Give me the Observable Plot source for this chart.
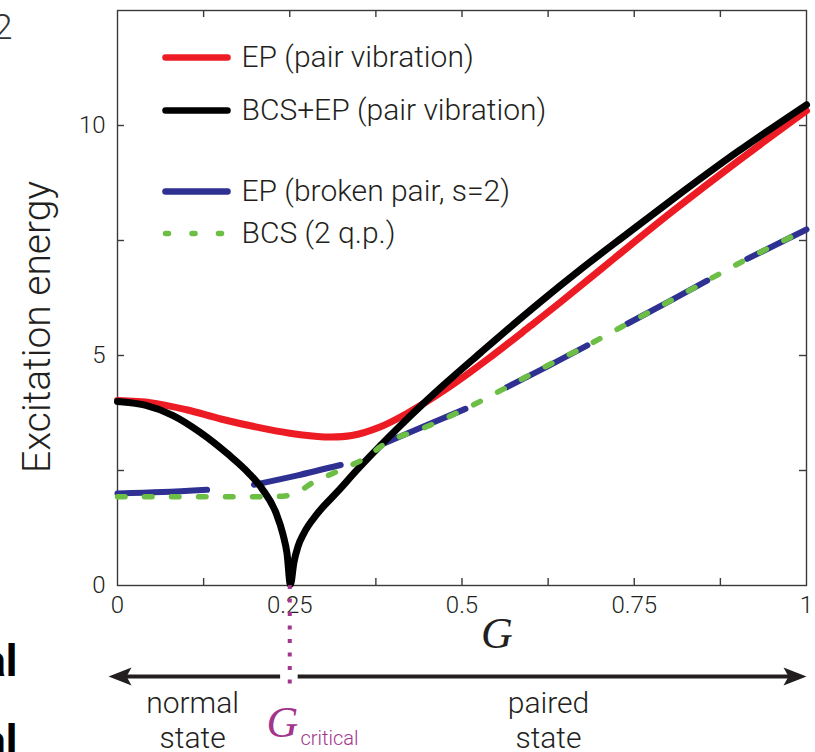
<!DOCTYPE html>
<html>
<head>
<meta charset="utf-8">
<script src="https://cdn.jsdelivr.net/npm/d3@7"></script>
<script src="https://cdn.jsdelivr.net/npm/@observablehq/plot@0.6"></script>
<style>
  html, body { margin: 0; padding: 0; background: #fff; }
  #chart { width: 815px; height: 752px; overflow: hidden; }
</style>
</head>
<body>
<div id="chart"></div>
<script>
// ---------- data ----------
const redG   = [0, 0.05, 0.1, 0.15, 0.2, 0.25, 0.3, 0.34, 0.38, 0.42, 0.48, 0.54, 0.6, 0.643, 0.72, 0.807, 0.9, 1.0];
const redE   = [4.02, 3.97, 3.82, 3.62, 3.45, 3.31, 3.23, 3.26, 3.44, 3.74, 4.3, 4.95, 5.65, 6.16, 7.1, 8.15, 9.22, 10.32];

const blackG = [0, 0.04, 0.08, 0.12, 0.16, 0.19, 0.21, 0.23, 0.24, 0.246, 0.251, 0.256, 0.262, 0.27, 0.29, 0.32, 0.35, 0.38, 0.41, 0.44, 0.478, 0.527, 0.575, 0.614, 0.672, 0.74, 0.807, 0.9, 1.0];
const blackE = [4.0, 3.92, 3.7, 3.33, 2.86, 2.45, 2.1, 1.58, 1.12, 0.7, 0.02, 0.5, 0.85, 1.12, 1.56, 2.05, 2.55, 3.02, 3.47, 3.9, 4.42, 5.06, 5.68, 6.17, 6.87, 7.65, 8.41, 9.43, 10.45];

const blueG   = [0, 0.065, 0.13, 0.198, 0.26, 0.324, 0.382, 0.445, 0.505, 0.565, 0.625, 0.682, 0.74, 0.8, 0.856, 0.914, 1.0];
const blueE   = [2.0, 2.03, 2.08, 2.19, 2.39, 2.62, 3.06, 3.46, 3.84, 4.31, 4.77, 5.22, 5.69, 6.17, 6.63, 7.1, 7.74];
const blueSeg = [1, 1, 1, 2, 2, 2, 3, 3, 3, 4, 4, 4, 5, 5, 5, 6, 6];

const greenG = [0, 0.1, 0.2, 0.24, 0.26, 0.285, 0.31, 0.34, 0.362, 0.382, 0.45, 0.505, 0.565, 0.62, 0.682, 0.74, 0.8, 0.856, 0.914, 1.0];
const greenE = [1.93, 1.93, 1.93, 1.94, 2.02, 2.25, 2.42, 2.62, 2.79, 3.02, 3.46, 3.84, 4.31, 4.75, 5.22, 5.69, 6.17, 6.63, 7.1, 7.74];

const legendLabels = ["EP (pair vibration)", "BCS+EP (pair vibration)", "EP (broken pair, s=2)", "BCS (2 q.p.)"];
const xLabelTicks = [0, 0.25, 0.5, 0.75, 1];
const xMinorTicks = [0.125, 0.25, 0.375, 0.5, 0.625, 0.75, 0.875];
const yLabelTicks = [0, 5, 10];
const yMinorTicks = [2.5, 5, 7.5, 10];

const G_CRIT = 0.25;
const regionLabels = ["normal\nstate", "paired\nstate"];

// ---------- layout / style ----------
const W = 815, H = 752, mL = 117, mR = 9, mT = 10, mB = 167;
const fw = W - mL - mR, fh = H - mT - mB;
const INK = "#231f20";
const RED = "#ed1c24", BLACK = "#000000", BLUE = "#2e3192", GREEN = "#6cbe45", MAGENTA = "#a3358c";
const FONT = "Roboto, 'Open Sans', sans-serif";
const SERIF = "'Liberation Serif', 'DejaVu Serif', serif";

const toRows = (gs, es, extra) => gs.map((g, i) => ({G: g, E: es[i], ...(extra ? {s: extra[i]} : {})}));
const redRows = toRows(redG, redE);
const blackRows = toRows(blackG, blackE);
const blueRows = toRows(blueG, blueE, blueSeg);
const greenRows = toRows(greenG, greenE);

// custom symbols
const swatchLine = {draw(ctx) { ctx.moveTo(-31, 0); ctx.lineTo(31, 0); }};
const stealth = {draw(ctx) { ctx.moveTo(0, 0); ctx.lineTo(-23, -9); ctx.lineTo(-18, 0); ctx.lineTo(-23, 9); ctx.closePath(); }};

// annotation placement (in data units)
const arrowY = -1.98;
const arrowSpans = [{x1: 0.236, x2: 0.0, tip: -0.013, rot: 180}, {x1: 0.2615, x2: 0.985, tip: 1.0, rot: 0}];

const legendOffsets = [47, 100, 181, 223];
const legendColors = [RED, BLACK, BLUE, GREEN];

const legendMarks = legendLabels.flatMap((lab, i) => [
  Plot.dot([lab], {
    frameAnchor: "top-left", dx: 79, dy: legendOffsets[i],
    symbol: swatchLine, fill: "none", stroke: legendColors[i],
    strokeWidth: i === 3 ? 5.5 : 6.5, strokeLinecap: "round",
    strokeDasharray: i === 3 ? "3,23.5" : null
  }),
  Plot.text([lab], {
    frameAnchor: "top-left", dx: 124, dy: legendOffsets[i],
    textAnchor: "start", lineAnchor: "middle", fontSize: 30, fill: INK, fontWeight: 300
  })
]);

const fragmentOffsets = [76, 156];
const fragmentMarks = fragmentOffsets.map(off =>
  Plot.text(["al"], {frameAnchor: "bottom-left", dx: -100, dy: off, textAnchor: "end", lineAnchor: "middle", fontSize: 44, fontWeight: "bold", fill: "#000"})
);

const chart = Plot.plot({
  width: W, height: H,
  marginLeft: mL, marginRight: mR, marginTop: mT, marginBottom: mB,
  style: {fontFamily: FONT, color: INK, background: "#fff", overflow: "visible"},
  x: {domain: [0, 1]},
  y: {domain: [0, 12.5]},
  marks: [
    Plot.frame({stroke: "#3a3a3a", strokeWidth: 1.4}),
    // inward ticks on all four sides
    Plot.tickX(xMinorTicks, {x: d => d, insetTop: fh - 7, stroke: "#3a3a3a", strokeWidth: 1.4}),
    Plot.tickX(xMinorTicks, {x: d => d, insetBottom: fh - 7, stroke: "#3a3a3a", strokeWidth: 1.4}),
    Plot.tickY(yMinorTicks, {y: d => d, insetRight: fw - 7, stroke: "#3a3a3a", strokeWidth: 1.4}),
    Plot.tickY(yMinorTicks, {y: d => d, insetLeft: fw - 7, stroke: "#3a3a3a", strokeWidth: 1.4}),
    // tick labels
    Plot.axisX({ticks: xLabelTicks, tickSize: 0, tickPadding: 10, fontSize: 24, tickFormat: d => String(d), label: null, fontWeight: 300}),
    Plot.axisY({ticks: yLabelTicks, tickSize: 0, tickPadding: 12, fontSize: 24, tickFormat: d => String(d), label: null, fontWeight: 300}),
    // axis titles
    Plot.text(["Excitation energy"], {frameAnchor: "left", rotate: -90, textAnchor: "middle", lineAnchor: "middle", dx: -80, dy: 29, fontSize: 39, fill: INK, fontWeight: 300}),
    Plot.text(["G"], {frameAnchor: "bottom", dx: 35, dy: 62, fontSize: 44, fontFamily: SERIF, fontStyle: "italic", fill: INK}),
    // curves
    Plot.line(redRows, {x: "G", y: "E", stroke: RED, strokeWidth: 7, curve: "catmull-rom", strokeLinecap: "round"}),
    Plot.line(blueRows, {x: "G", y: "E", z: "s", stroke: BLUE, strokeWidth: 6, curve: "monotone-x", strokeLinecap: "round"}),
    Plot.line(blackRows, {x: "G", y: "E", stroke: BLACK, strokeWidth: 7, curve: "monotone-x", strokeLinecap: "round", strokeLinejoin: "round"}),
    Plot.line(greenRows, {x: "G", y: "E", stroke: GREEN, strokeWidth: 5.5, curve: "monotone-x", strokeLinecap: "round", strokeDasharray: "7.5,19.5"}),
    // legend
    ...legendMarks,
    // state arrow below the axis
    Plot.link(arrowSpans, {x1: "x1", x2: "x2", y1: arrowY, y2: arrowY, stroke: INK, strokeWidth: 4}),
    Plot.dot(arrowSpans, {x: "tip", y: arrowY, symbol: stealth, rotate: "rot", fill: INK, stroke: "none"}),
    // critical G marker
    Plot.ruleX([G_CRIT], {y1: 0, y2: -2.35, stroke: MAGENTA, strokeWidth: 4, strokeDasharray: "4,9.5"}),
    Plot.text(["G"], {x: 0.2163, y: -3.30, textAnchor: "start", lineAnchor: "bottom", fontSize: 44, fontFamily: SERIF, fontStyle: "italic", fill: MAGENTA}),
    Plot.text(["critical"], {x: 0.2656, y: -3.46, textAnchor: "start", lineAnchor: "bottom", fontSize: 20, fill: MAGENTA, fontWeight: 300}),
    Plot.text(regionLabels, {x: [0.109, 0.6255], y: [-3.54, -3.54], textAnchor: "middle", lineAnchor: "bottom", lineHeight: 1.17, fontSize: 30, fill: INK, fontWeight: 300}),
    // cropped fragments of neighbouring panels
    Plot.text(["2"], {frameAnchor: "top-left", dx: -105, dy: 17, textAnchor: "end", lineAnchor: "middle", fontSize: 35, fill: "#333", fontWeight: 300}),
    ...fragmentMarks
  ]
});

document.getElementById("chart").appendChild(chart);
</script>
</body>
</html>
